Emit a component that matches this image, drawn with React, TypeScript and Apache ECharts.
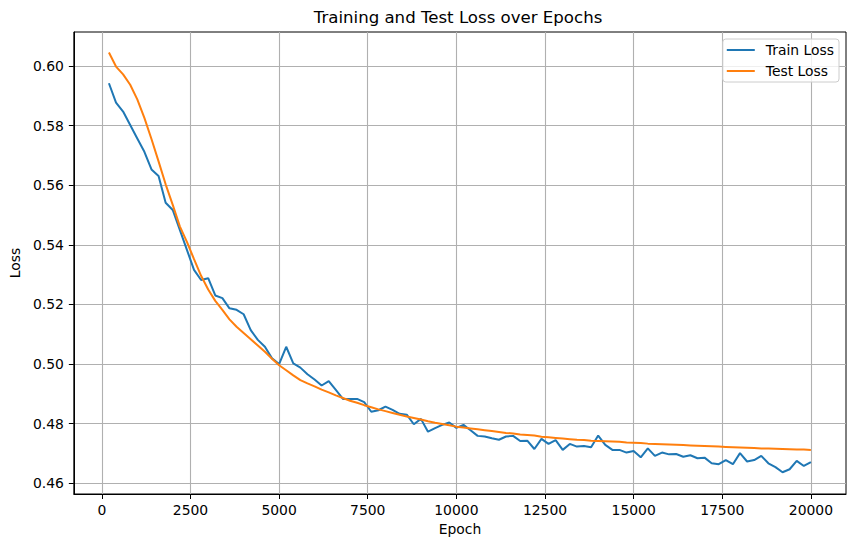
import React, { useEffect, useRef } from "react";
import * as echarts from "echarts";

const epochs = [
  200, 400, 600, 800, 1000, 1200, 1400, 1600, 1800, 2000,
  2200, 2400, 2600, 2800, 3000, 3200, 3400, 3600, 3800, 4000,
  4200, 4400, 4600, 4800, 5000, 5200, 5400, 5600, 5800, 6000,
  6200, 6400, 6600, 6800, 7000, 7200, 7400, 7600, 7800, 8000,
  8200, 8400, 8600, 8800, 9000, 9200, 9400, 9600, 9800, 10000,
  10200, 10400, 10600, 10800, 11000, 11200, 11400, 11600, 11800, 12000,
  12200, 12400, 12600, 12800, 13000, 13200, 13400, 13600, 13800, 14000,
  14200, 14400, 14600, 14800, 15000, 15200, 15400, 15600, 15800, 16000,
  16200, 16400, 16600, 16800, 17000, 17200, 17400, 17600, 17800, 18000,
  18200, 18400, 18600, 18800, 19000, 19200, 19400, 19600, 19800, 20000,
];

const trainLoss = [
  0.5942, 0.5877, 0.5847, 0.5802, 0.5757, 0.5712, 0.5653, 0.5631, 0.5541, 0.5517,
  0.5450, 0.5383, 0.5316, 0.5282, 0.5288, 0.5230, 0.5221, 0.5187, 0.5182, 0.5167,
  0.5114, 0.5081, 0.5058, 0.5019, 0.5000, 0.5058, 0.5002, 0.4988, 0.4966, 0.4948,
  0.4928, 0.4943, 0.4913, 0.4883, 0.4883, 0.4883, 0.4872, 0.4840, 0.4845, 0.4857,
  0.4846, 0.4833, 0.4830, 0.4798, 0.4816, 0.4773, 0.4785, 0.4796, 0.4804, 0.4786,
  0.4796, 0.4778, 0.4759, 0.4757, 0.4751, 0.4746, 0.4757, 0.4759, 0.4742, 0.4743,
  0.4715, 0.4749, 0.4732, 0.4745, 0.4712, 0.4732, 0.4723, 0.4725, 0.4721, 0.4760,
  0.4729, 0.4712, 0.4712, 0.4703, 0.4708, 0.4687, 0.4717, 0.4692, 0.4703, 0.4697,
  0.4698, 0.4689, 0.4694, 0.4684, 0.4686, 0.4667, 0.4664, 0.4678, 0.4664, 0.4701,
  0.4673, 0.4678, 0.4692, 0.4667, 0.4654, 0.4637, 0.4647, 0.4675, 0.4658, 0.4671,
];

const testLoss = [
  0.6045, 0.5998, 0.5972, 0.5937, 0.5888, 0.5826, 0.5755, 0.5680, 0.5603, 0.5534,
  0.5462, 0.5410, 0.5352, 0.5296, 0.5250, 0.5212, 0.5182, 0.5150, 0.5125, 0.5104,
  0.5083, 0.5062, 0.5041, 0.5018, 0.4996, 0.4979, 0.4962, 0.4946, 0.4935, 0.4925,
  0.4914, 0.4905, 0.4895, 0.4886, 0.4877, 0.4870, 0.4862, 0.4855, 0.4848, 0.4842,
  0.4836, 0.4830, 0.4824, 0.4819, 0.4814, 0.4808, 0.4803, 0.4799, 0.4795, 0.4790,
  0.4787, 0.4784, 0.4781, 0.4778, 0.4775, 0.4772, 0.4769, 0.4767, 0.4764, 0.4762,
  0.4760, 0.4756, 0.4754, 0.4752, 0.4750, 0.4748, 0.4746, 0.4745, 0.4743, 0.4742,
  0.4741, 0.4740, 0.4739, 0.4737, 0.4736, 0.4735, 0.4733, 0.4732, 0.4731, 0.4730,
  0.4729, 0.4728, 0.4727, 0.4726, 0.4725, 0.4724, 0.4723, 0.4722, 0.4721, 0.4720,
  0.4719, 0.4718, 0.4717, 0.4717, 0.4716, 0.4715, 0.4714, 0.4713, 0.4713, 0.4712,
];

const xTicks = [0, 2500, 5000, 7500, 10000, 12500, 15000, 17500, 20000];
const yTicks = [0.46, 0.48, 0.5, 0.52, 0.54, 0.56, 0.58, 0.6];

const FONT = "DejaVu Sans";

export default function App() {
  const ref = useRef<HTMLDivElement>(null);
  useEffect(() => {
    if (!ref.current) return;
    const chart = echarts.init(ref.current, null, { renderer: "svg" });
    const axisCommon = {
      axisLine: { show: true, onZero: false, lineStyle: { color: "#000", width: 1 } },
      axisTick: { show: true, inside: false, length: 5, lineStyle: { color: "#000", width: 1 } },
      splitLine: { show: true, lineStyle: { color: "#b0b0b0", width: 1.1 } },
    };
    chart.setOption({
      animation: false,
      grid: {
        left: 70,
        right: 9,
        top: 32,
        bottom: 53,
        containLabel: false,
        show: true,
        borderColor: "#000",
        borderWidth: 1,
        backgroundColor: "#fff",
      },
      graphic: [
        {
          type: "text",
          x: 458,
          y: 17,
          style: {
            text: "Training and Test Loss over Epochs",
            font: `16.6px "${FONT}"`,
            fill: "#000",
            textAlign: "center",
            textVerticalAlign: "middle",
          },
        },
      ],
      legend: {
        data: ["Train Loss", "Test Loss"],
        orient: "vertical",
        right: 16,
        top: 39,
        icon: "rect",
        itemWidth: 28,
        itemHeight: 2,
        itemGap: 7,
        padding: [4, 5, 4, 4],
        backgroundColor: "rgba(255,255,255,0.8)",
        borderColor: "#cccccc",
        borderWidth: 1,
        borderRadius: 3,
        textStyle: {
          fontFamily: FONT,
          fontSize: 13.9,
          color: "#000",
          lineHeight: 14,
          padding: [0, 0, 0, 6],
        },
      },
      xAxis: {
        type: "value",
        min: -790,
        max: 20990,
        name: "Epoch",
        nameLocation: "middle",
        nameGap: 28,
        nameTextStyle: { fontFamily: FONT, fontSize: 13.9, color: "#000" },
        ...axisCommon,
        axisTick: { ...axisCommon.axisTick, customValues: xTicks },
        axisLabel: {
          customValues: xTicks,
          margin: 9,
          fontFamily: FONT,
          fontSize: 13.9,
          color: "#000",
          formatter: (v: number) => String(v),
        },
      },
      yAxis: {
        type: "value",
        min: 0.4564,
        max: 0.6114,
        name: "Loss",
        nameLocation: "middle",
        nameGap: 47,
        nameTextStyle: { fontFamily: FONT, fontSize: 13.9, color: "#000" },
        ...axisCommon,
        axisTick: { ...axisCommon.axisTick, customValues: yTicks },
        axisLabel: {
          customValues: yTicks,
          margin: 10,
          fontFamily: FONT,
          fontSize: 13.9,
          color: "#000",
          formatter: (v: number) => v.toFixed(2),
        },
      },
      series: [
        {
          name: "Train Loss",
          type: "line",
          showSymbol: false,
          symbol: "none",
          data: epochs.map((e, i) => [e, trainLoss[i]]),
          lineStyle: { color: "#1f77b4", width: 2 },
          itemStyle: { color: "#1f77b4" },
          z: 3,
        },
        {
          name: "Test Loss",
          type: "line",
          showSymbol: false,
          symbol: "none",
          data: epochs.map((e, i) => [e, testLoss[i]]),
          lineStyle: { color: "#ff7f0e", width: 2 },
          itemStyle: { color: "#ff7f0e" },
          z: 4,
        },
      ],
    });
    return () => chart.dispose();
  }, []);
  return (
    <div
      ref={ref}
      style={{ position: "fixed", left: 0, top: 0, width: 855, height: 547, background: "#fff" }}
    />
  );
}
